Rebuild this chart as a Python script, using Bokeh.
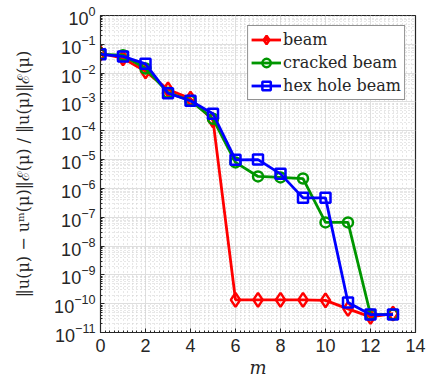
import numpy as np
from bokeh.plotting import figure
from bokeh.models import FixedTicker, Legend
from bokeh.embed import file_html
from bokeh.resources import INLINE

m = list(range(14))
beam = [4.8e-2, 3.3e-2, 1.15e-2, 2.7e-3, 1.3e-3, 2.3e-4, 1.35e-10, 1.35e-10,
        1.35e-10, 1.35e-10, 1.3e-10, 6.6e-11, 3.5e-11, 4.5e-11]
cracked = [4.5e-2, 4.2e-2, 1.45e-2, 2.1e-3, 1.1e-3, 2.6e-4, 8e-6, 2.6e-6,
           2.4e-6, 2.2e-6, 6.6e-8, 6.6e-8, 4.2e-11, 4.2e-11]
hexhole = [4.5e-2, 3.8e-2, 2.1e-2, 2.0e-3, 1.1e-3, 3.9e-4, 9.8e-6, 1.0e-5,
           3.2e-6, 4.7e-7, 4.7e-7, 1.1e-10, 4.2e-11, 4.2e-11]
x_ticks = [0, 2, 4, 6, 8, 10, 12, 14]
y_exps = list(range(-11, 1))

AX = "#262626"
SERIF = "DejaVu Serif"
SANS = "Liberation Sans"
y_major = [10.0 ** e for e in y_exps]
y_minor = [k * 10.0 ** e for e in y_exps[:-1] for k in range(2, 10)]
x_minor = [round(v, 2) for v in np.arange(0, 14.001, 0.2)]

p = figure(width=429, height=385, x_range=(0, 14), y_range=(1e-11, 1),
           y_axis_type="log", output_backend="svg", toolbar_location=None,
           min_border_left=100, min_border_right=14, min_border_top=15,
           min_border_bottom=53)
p.background_fill_color = "white"
p.outline_line_color = AX
p.outline_line_width = 1.2

xt = FixedTicker(ticks=x_ticks, minor_ticks=x_minor)
yt = FixedTicker(ticks=y_major, minor_ticks=y_minor)

for ax in [p.xaxis[0], p.yaxis[0]]:
    ax.axis_line_color = AX
    ax.major_tick_line_color = AX
    ax.minor_tick_line_color = AX
    ax.major_tick_in = 4
    ax.major_tick_out = 0
    ax.minor_tick_in = 2
    ax.minor_tick_out = 0
    ax.major_label_text_font = SANS
    ax.major_label_text_font_size = "18px"
    ax.major_label_text_color = AX
    ax.axis_label_text_font = SERIF
    ax.axis_label_text_font_style = "normal"
    ax.axis_label_text_color = AX

p.xaxis.ticker = xt
p.yaxis.ticker = yt
p.xaxis.axis_label = "m"
p.xaxis.axis_label_text_font_style = "italic"
p.xaxis.axis_label_text_font_size = "18px"
p.xaxis.axis_label_standoff = 2
p.xaxis.major_label_standoff = 6
p.yaxis.axis_label = "‖u(μ) − uᵐ(μ)‖ℰ(μ) / ‖u(μ)‖ℰ(μ)"
p.yaxis.axis_label_text_font_size = "16px"
p.yaxis.axis_label_standoff = 18
p.yaxis.major_label_standoff = 5

for g in [p.xgrid[0], p.ygrid[0]]:
    g.grid_line_color = "#dedede"
    g.grid_line_width = 1
    g.minor_grid_line_color = "#cfcfcf"
    g.minor_grid_line_dash = "1 3"
    g.minor_grid_line_width = 1
p.xgrid.ticker = xt
p.ygrid.ticker = yt

series = [
    (beam, "#ff0000", "diamond", 14, "beam"),
    (cracked, "#009600", "circle", 10, "cracked beam"),
    (hexhole, "#0000ff", "square", 10, "hex hole beam"),
]
items = []
for vals, col, mk, sz, lab in series:
    r1 = p.line(m, vals, line_color=col, line_width=2.8)
    r2 = p.scatter(m, vals, marker=mk, size=sz, line_color=col, line_width=2.5,
                   fill_alpha=0)
    items.append((lab, [r1, r2]))

leg = Legend(items=items, location="top_right")
leg.margin = 10
leg.padding = 3
leg.spacing = 2
leg.label_text_font = SERIF
leg.label_text_font_size = "16px"
leg.label_text_color = AX
leg.label_height = 21
leg.glyph_height = 21
leg.glyph_width = 30
leg.label_standoff = 2
leg.border_line_color = AX
leg.border_line_width = 1
leg.background_fill_alpha = 1
p.add_layout(leg, "center")

open("out.html", "w").write(file_html(p, INLINE))
